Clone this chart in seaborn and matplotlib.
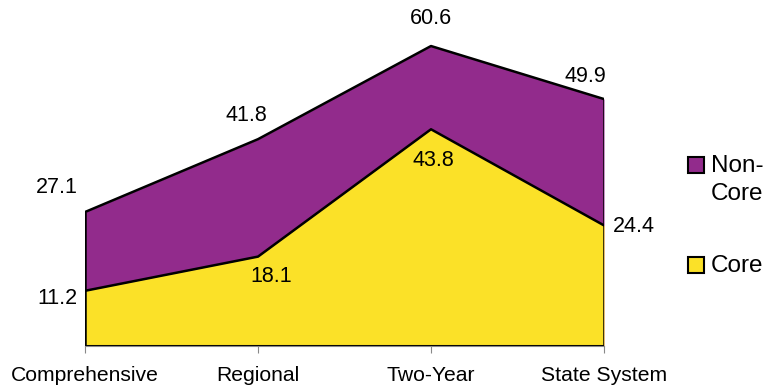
import matplotlib
matplotlib.use("Agg")
import matplotlib.pyplot as plt
from matplotlib.patches import Rectangle
import seaborn as sns

categories = ["Comprehensive", "Regional", "Two-Year", "State System"]
non_core = [27.1, 41.8, 60.6, 49.9]
core = [11.2, 18.1, 43.8, 24.4]
legend_labels = ["Non-\nCore", "Core"]

# label offsets in pixels (dx, dy) for each point
non_core_offsets = [(-28, 25), (-12, 24), (0, 28), (-19, 23)]
core_offsets = [(-28, -8), (13, -20), (2, -31), (30, -1)]

purple = "#922B8C"
yellow = "#FBE128"

sns.set_style("white")
plt.rcParams["font.family"] = ["Liberation Sans", "DejaVu Sans"]
plt.rcParams["text.color"] = "black"
plt.rcParams["xtick.labelcolor"] = "black"

W, H = 772, 387
fig = plt.figure(figsize=(W / 100, H / 100), dpi=100)
ax = fig.add_axes([85 / W, (H - 346.3) / H, 519 / W, 66 * 4.955 / H])

x = list(range(len(categories)))
ax.fill_between(x, 0, non_core, color=purple, lw=0)
ax.fill_between(x, 0, core, color=yellow, lw=0)
sns.lineplot(x=x, y=non_core, color="black", lw=1.8, ax=ax)
sns.lineplot(x=x, y=core, color="black", lw=1.8, ax=ax)
ax.vlines([x[0], x[-1]], 0, [non_core[0], non_core[-1]], color="black", lw=1.8)
ax.hlines(0, x[0], x[-1], color="black", lw=2.2)

for xi, v, off in zip(x, non_core, non_core_offsets):
    ax.annotate(f"{v:.1f}", (xi, v), xytext=off, textcoords="offset pixels",
                ha="center", va="center", fontsize=15.5)
for xi, v, off in zip(x, core, core_offsets):
    ax.annotate(f"{v:.1f}", (xi, v), xytext=off, textcoords="offset pixels",
                ha="center", va="center", fontsize=15.5)

ax.set_xlim(0, 3)
ax.set_ylim(0, 66)
ax.set_xticks(x)
ax.set_xticklabels(categories, fontsize=15.2)
ax.set_yticks([])
ax.tick_params(axis="x", length=5, color="#888888", bottom=True, pad=9)
for s in ["top", "right", "left"]:
    ax.spines[s].set_visible(False)
ax.spines["bottom"].set_color("#888888")

# legend drawn by hand so the swatch sits on the first text line
for color, label, top in zip([purple, yellow], legend_labels, [157, 257]):
    fig.patches.append(Rectangle((688 / W, 1 - (top + 16) / H), 16 / W, 16 / H,
                                 transform=fig.transFigure, facecolor=color,
                                 edgecolor="black", lw=1.5))
    for i, line in enumerate(label.split("\n")):
        fig.text(711 / W, 1 - (top + 9 + 28 * i) / H, line,
                 ha="left", va="center", fontsize=17.5)

fig.savefig("out.png", dpi=100)
